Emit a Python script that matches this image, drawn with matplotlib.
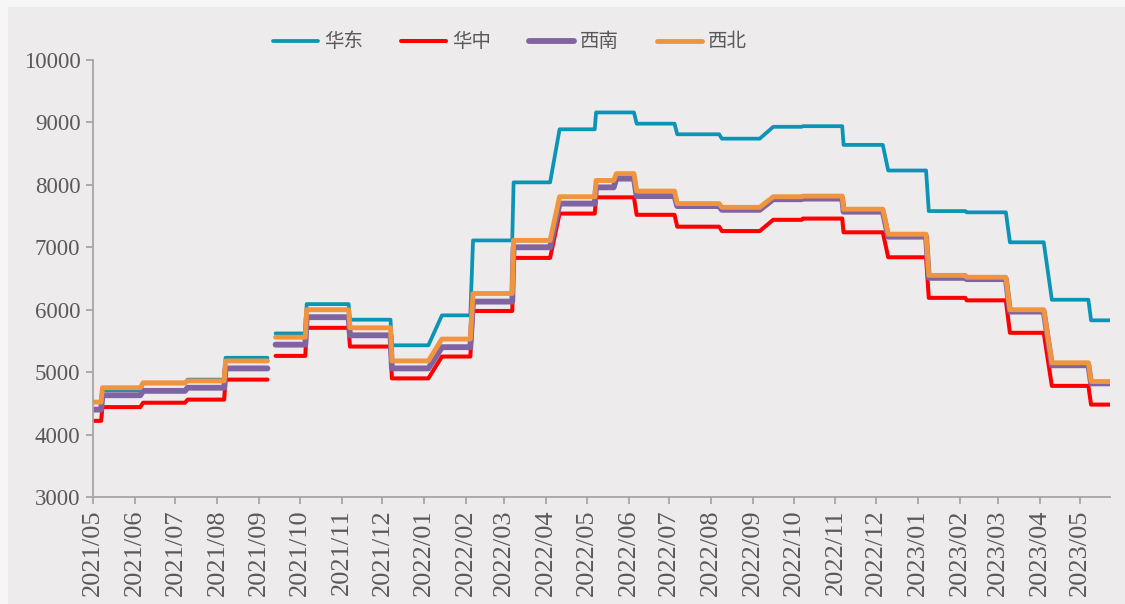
import numpy as np
import pandas as pd
import matplotlib
matplotlib.use("Agg")
from matplotlib import pyplot as plt
import matplotlib.dates as mdates
from matplotlib.patches import Rectangle

plt.rcParams['font.family'] = ['Liberation Serif', 'Noto Sans CJK SC', 'DejaVu Sans']

# each price level: first day, last day (NaN row = gap in data)
level_start = ["2021-05-01", "2021-05-08", "2021-06-07", "2021-07-10", "2021-08-07",
               "2021-09-09", "2021-09-13", "2021-10-06", "2021-11-07", "2021-12-08",
               "2022-01-14", "2022-02-06", "2022-03-08", "2022-04-11", "2022-05-08",
               "2022-05-23", "2022-06-07", "2022-07-07", "2022-08-09", "2022-09-16",
               "2022-10-08", "2022-11-07", "2022-12-10", "2023-01-09", "2023-02-06",
               "2023-03-10", "2023-04-10", "2023-05-09"]
level_end = ["2021-05-07", "2021-06-05", "2021-07-08", "2021-08-06", "2021-09-07",
             "2021-09-11", "2021-10-05", "2021-11-06", "2021-12-07", "2022-01-04",
             "2022-02-04", "2022-03-07", "2022-04-04", "2022-05-07", "2022-05-21",
             "2022-06-05", "2022-07-05", "2022-08-07", "2022-09-06", "2022-10-07",
             "2022-11-06", "2022-12-06", "2023-01-07", "2023-02-05", "2023-03-07",
             "2023-04-04", "2023-05-07", "2023-05-23"]

nan = np.nan
east = [4520, 4710, 4820, 4880, 5230, nan, 5620, 6090, 5840, 5430, 5910, 7110, 8040, 8890,
        9160, 9160, 8980, 8810, 8740, 8930, 8940, 8640, 8230, 7580, 7560, 7080, 6160, 5830]
central = [4220, 4440, 4510, 4560, 4880, nan, 5260, 5710, 5410, 4900, 5250, 5980, 6830, 7540,
           7800, 7800, 7520, 7330, 7260, 7440, 7460, 7240, 6840, 6190, 6150, 5630, 4780, 4480]
southwest = [4400, 4630, 4700, 4750, 5060, nan, 5440, 5880, 5590, 5060, 5400, 6130, 7000, 7700,
             7960, 8100, 7820, 7660, 7600, 7770, 7780, 7570, 7170, 6510, 6490, 5970, 5110, 4820]
northwest = [4520, 4750, 4830, 4860, 5180, nan, 5560, 6000, 5710, 5180, 5530, 6260, 7110, 7810,
             8070, 8180, 7900, 7700, 7640, 7810, 7820, 7610, 7210, 6550, 6520, 6000, 5150, 4850]

names = ["华东", "华中", "西南", "西北"]
colors = ["#0A94B6", "#FF0000", "#8064A2", "#F0943F"]
widths = [2.7, 2.9, 4.2, 3.5]

starts = pd.to_datetime(level_start)
ends = pd.to_datetime(level_end)
x = np.empty(2 * len(starts), dtype="datetime64[ns]")
x[0::2] = starts.values
x[1::2] = ends.values

bg = "#EDEBEC"
fig = plt.figure(figsize=(11.25, 6.04), dpi=100)
fig.patch.set_facecolor("#F6F6F6")
fig.patches.append(Rectangle((8 / 1125, 0), 1, 1 - 7 / 604, transform=fig.transFigure,
                             facecolor=bg, edgecolor="none", zorder=-10))
ax = fig.add_axes([93 / 1125, 1 - 497 / 604, (1110 - 93) / 1125, (497 - 60) / 604])
ax.set_facecolor(bg)

for vals, name, c, lw in zip([east, central, southwest, northwest], names, colors, widths):
    y = np.repeat(np.array(vals, dtype=float), 2)
    ax.plot(x, y, color=c, lw=lw, label=name, solid_capstyle="round", solid_joinstyle="round")

ax.set_ylim(3000, 10000)
ax.set_yticks(np.arange(3000, 10001, 1000))
ax.set_xlim(starts[0], ends[-1])
ax.xaxis.set_major_locator(mdates.MonthLocator())
ax.xaxis.set_major_formatter(mdates.DateFormatter("%Y/%m"))
for s in ["top", "right"]:
    ax.spines[s].set_visible(False)
for s in ["left", "bottom"]:
    ax.spines[s].set_color("#A6A6A6")
    ax.spines[s].set_linewidth(1.3)
ax.tick_params(axis="both", colors="#A6A6A6", width=1.3, length=5, labelcolor="#595959")
ax.tick_params(axis="y", labelsize=16.5, pad=4)
ax.tick_params(axis="x", labelsize=19, rotation=90, pad=4)

leg = ax.legend(loc="center", bbox_to_anchor=(510 / 1125, 1 - 42 / 604),
                bbox_transform=fig.transFigure, ncol=4, frameon=False,
                fontsize=14, handlelength=2.3, handletextpad=0.3, columnspacing=1.97)
for t in leg.get_texts():
    t.set_color("#595959")

fig.savefig("out.png", dpi=100, facecolor=fig.get_facecolor())
